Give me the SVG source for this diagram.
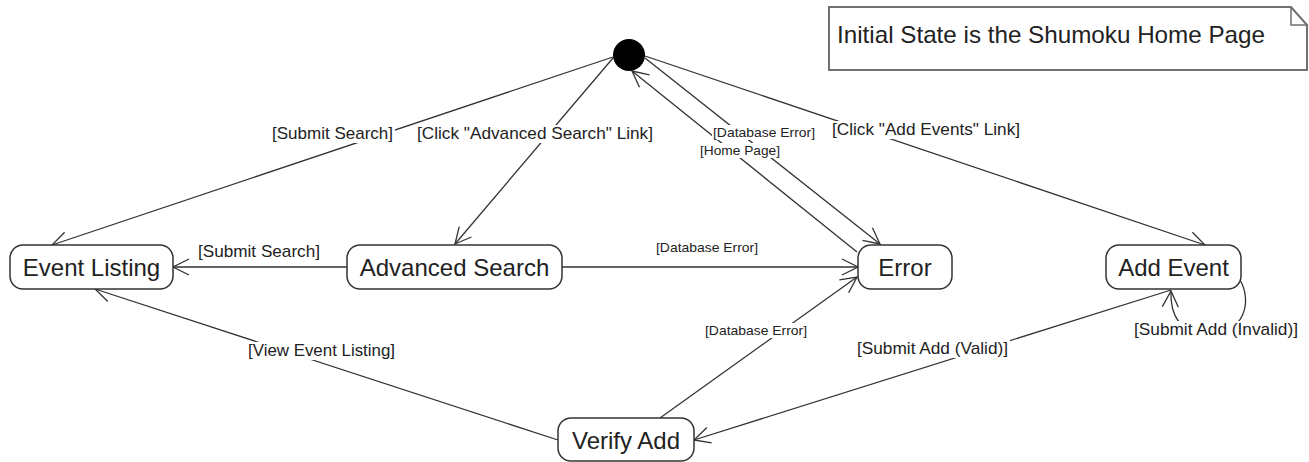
<svg xmlns="http://www.w3.org/2000/svg" width="1309" height="462" viewBox="0 0 1309 462">
<style>
.node rect{fill:#fff;stroke:#333;stroke-width:1.5}
.ntext{font-family:"Liberation Sans",Arial,sans-serif;font-size:24px;fill:#222;text-anchor:middle}
.edge{fill:none;stroke:#333;stroke-width:1.3;marker-end:url(#arr)}
.lbg{fill:#fff}
.lbl{font-family:"Liberation Sans",Arial,sans-serif;font-size:17px;fill:#222}
.slbl{font-family:"Liberation Sans",Arial,sans-serif;font-size:13.5px;fill:#222}
</style>
<defs>
<marker id="arr" markerUnits="userSpaceOnUse" markerWidth="20" markerHeight="20" viewBox="-18 -10 20 20" refX="0" refY="0" orient="auto" overflow="visible">
<path d="M-16,-8 L0,0 L-16,8" fill="none" stroke="#333" stroke-width="1.3"/>
</marker>
</defs>
<rect width="1309" height="462" fill="#fff"/>
<g id="connectors">
<path class="edge" d="M613,57 L52,245"/>
<path class="edge" d="M613,58 L455,244"/>
<path class="edge" d="M645,58 L880,244"/>
<path class="edge" d="M857,252 L632,71"/>
<path class="edge" d="M645,56 L1205,245"/>
<path class="edge" d="M347,267 L173,267"/>
<path class="edge" d="M562,267 L858,267"/>
<path class="edge" d="M558,440 L95,289"/>
<path class="edge" d="M660,418 L857,277"/>
<path class="edge" d="M1171,290 L694,440"/>
<path class="edge" d="M1240,280 C1252,300 1246,334 1208,334 C1180,334 1170,315 1171,291"/>
</g>
<g id="labels">
<rect class="lbg" x="271" y="125" width="124" height="18"/>
<text class="lbl" x="272" y="139" textLength="121" lengthAdjust="spacingAndGlyphs">[Submit Search]</text>
<rect class="lbg" x="416" y="125" width="239" height="18"/>
<text class="lbl" x="417" y="139" textLength="236" lengthAdjust="spacingAndGlyphs">[Click "Advanced Search" Link]</text>
<rect class="lbg" x="831" y="121" width="191" height="18"/>
<text class="lbl" x="832" y="135" textLength="188" lengthAdjust="spacingAndGlyphs">[Click "Add Events" Link]</text>
<rect class="lbg" x="197" y="243" width="125" height="18"/>
<text class="lbl" x="198" y="257" textLength="122" lengthAdjust="spacingAndGlyphs">[Submit Search]</text>
<rect class="lbg" x="247" y="342" width="150" height="18"/>
<text class="lbl" x="248" y="356" textLength="147" lengthAdjust="spacingAndGlyphs">[View Event Listing]</text>
<rect class="lbg" x="856" y="340" width="154" height="18"/>
<text class="lbl" x="857" y="354" textLength="151" lengthAdjust="spacingAndGlyphs">[Submit Add (Valid)]</text>
<rect class="lbg" x="1133" y="321" width="167" height="18"/>
<text class="lbl" x="1134" y="335" textLength="164" lengthAdjust="spacingAndGlyphs">[Submit Add (Invalid)]</text>
<rect class="lbg" x="712" y="125" width="104" height="15"/>
<text class="slbl" x="713" y="137" textLength="102" lengthAdjust="spacingAndGlyphs">[Database Error]</text>
<rect class="lbg" x="699" y="143" width="82" height="15"/>
<text class="slbl" x="700" y="155" textLength="80" lengthAdjust="spacingAndGlyphs">[Home Page]</text>
<text class="slbl" x="656" y="252" textLength="102" lengthAdjust="spacingAndGlyphs">[Database Error]</text>
<rect class="lbg" x="704" y="323" width="104" height="15"/>
<text class="slbl" x="705" y="335" textLength="102" lengthAdjust="spacingAndGlyphs">[Database Error]</text>
</g>
<g id="initial">
<circle cx="629" cy="55" r="16" fill="#000"/>
</g>
<g id="note">
<path d="M829,7 L1291,7 L1307,25 L1307,70 L829,70 Z" fill="#fff" stroke="#707070" stroke-width="2"/>
<path d="M1291,7 L1291,25 L1307,25" fill="none" stroke="#707070" stroke-width="1.5"/>
<text x="837" y="43" font-family="Liberation Sans, Arial, sans-serif" font-size="24" fill="#222" textLength="428" lengthAdjust="spacingAndGlyphs">Initial State is the Shumoku Home Page</text>
</g>
<g id="event-listing" class="node">
<rect x="10" y="245" width="163" height="44" rx="13"/>
<text class="ntext" x="91.5" y="275.5">Event Listing</text>
</g>
<g id="advanced-search" class="node">
<rect x="347" y="245" width="215" height="44" rx="13"/>
<text class="ntext" x="454.5" y="275.5">Advanced Search</text>
</g>
<g id="error" class="node">
<rect x="858" y="245" width="94" height="44" rx="13"/>
<text class="ntext" x="905" y="275.5">Error</text>
</g>
<g id="add-event" class="node">
<rect x="1106" y="245" width="135" height="44" rx="13"/>
<text class="ntext" x="1173.5" y="275.5">Add Event</text>
</g>
<g id="verify-add" class="node">
<rect x="558" y="418" width="136" height="43" rx="13"/>
<text class="ntext" x="626" y="448.5">Verify Add</text>
</g>
</svg>
